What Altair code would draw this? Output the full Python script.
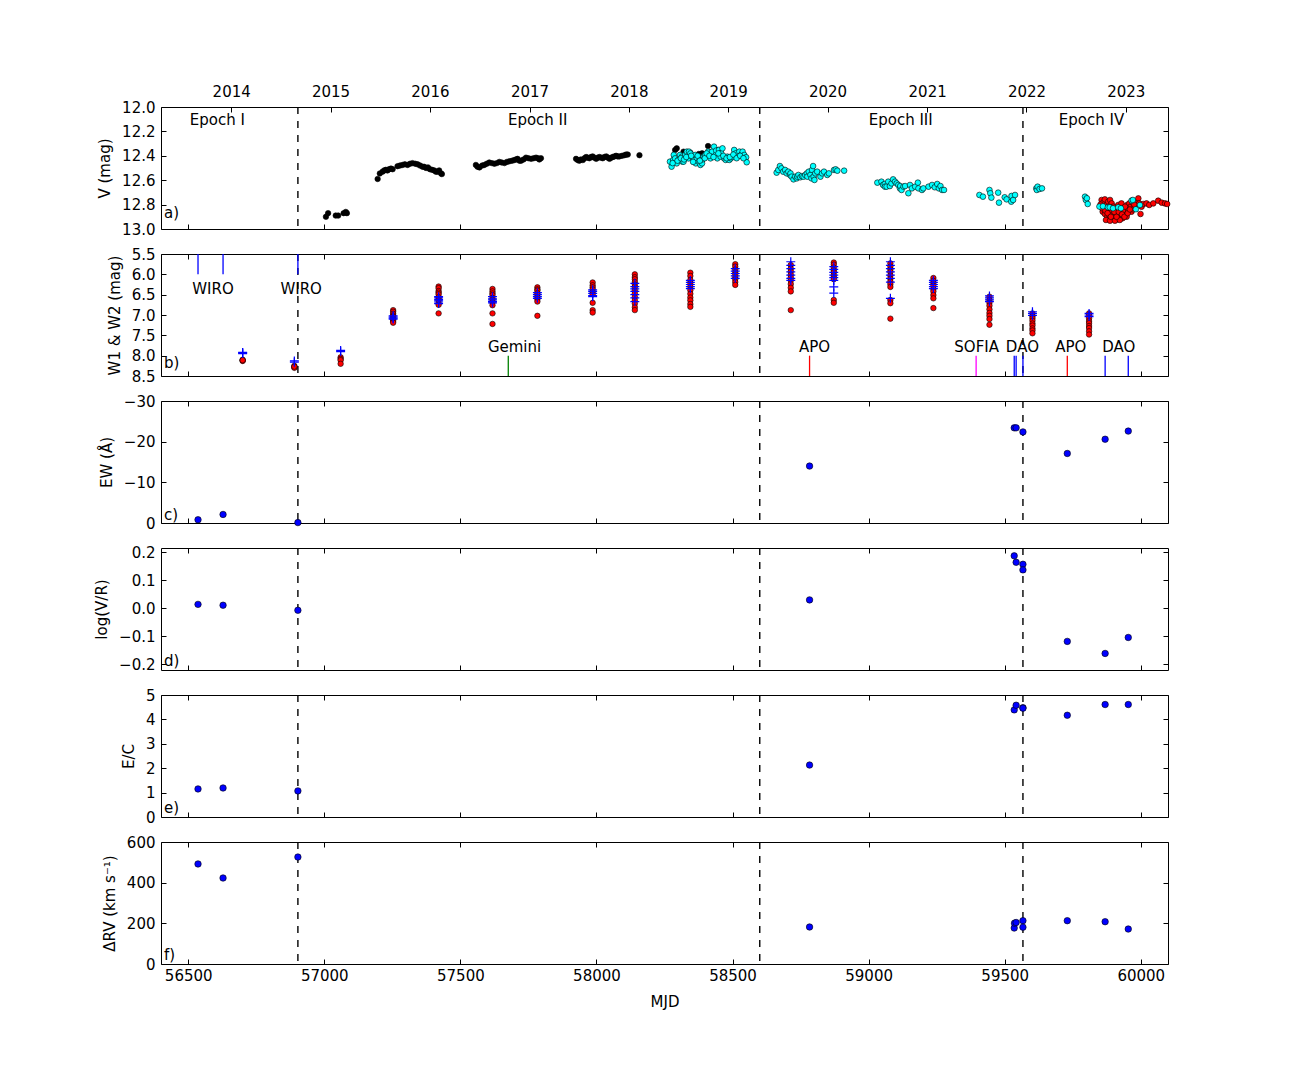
import altair as alt
import pandas as pd

FONT = "DejaVu Sans"
FS = 15
W = 1007
H = 122
TICK = 5

# ---------------- shared x data ----------------
x_domain = [56400, 60100]
mjd_ticks = [56500, 57000, 57500, 58000, 58500, 59000, 59500, 60000]
year_labels = ["2014", "2015", "2016", "2017", "2018", "2019", "2020", "2021", "2022", "2023"]
year_mjd = [56658, 57023, 57388, 57754, 58119, 58484, 58849, 59215, 59580, 59945]
epoch_bounds = [56903, 58600, 59567]
epoch_names = ["Epoch I", "Epoch II", "Epoch III", "Epoch IV"]
epoch_name_mjd = [56607, 57784, 59118, 59819]
epoch_name_v = 12.107

# ---------------- panel a: V (mag) ----------------
v_black = [
    (57006, 12.90), (57014, 12.87), (57042, 12.89), (57051, 12.89), (57071, 12.87), (57079, 12.86), (57083, 12.87),
    (57196, 12.59), (57204, 12.545), (57214, 12.53), (57220, 12.52), (57226, 12.515), (57232, 12.52), (57238, 12.51),
    (57245, 12.505), (57251, 12.51), (57269, 12.485), (57278, 12.48), (57287, 12.475), (57296, 12.47), (57306, 12.475),
    (57315, 12.465), (57324, 12.46), (57334, 12.465), (57343, 12.47), (57352, 12.48), (57361, 12.49), (57367, 12.49),
    (57374, 12.50), (57381, 12.495), (57388, 12.51), (57396, 12.515), (57404, 12.52), (57410, 12.53), (57416, 12.53),
    (57422, 12.52), (57429, 12.545), (57432, 12.55),
    (57557, 12.475), (57563, 12.49), (57570, 12.495), (57580, 12.48), (57588, 12.475), (57597, 12.465), (57606, 12.455),
    (57616, 12.46), (57625, 12.465), (57634, 12.46), (57643, 12.45), (57652, 12.455), (57662, 12.46), (57671, 12.45),
    (57680, 12.445), (57690, 12.44), (57698, 12.435), (57705, 12.43), (57710, 12.425), (57717, 12.44), (57723, 12.44),
    (57732, 12.43), (57741, 12.415), (57750, 12.42), (57760, 12.425), (57769, 12.42), (57778, 12.415), (57785, 12.42),
    (57790, 12.43), (57796, 12.42),
    (57925, 12.425), (57931, 12.435), (57937, 12.44), (57943, 12.43), (57950, 12.435), (57956, 12.42), (57962, 12.41),
    (57968, 12.415), (57974, 12.42), (57980, 12.41), (57986, 12.405), (57992, 12.415), (57999, 12.425), (58005, 12.415),
    (58011, 12.41), (58017, 12.415), (58023, 12.42), (58029, 12.41), (58036, 12.405), (58042, 12.415), (58048, 12.425),
    (58054, 12.415), (58060, 12.41), (58066, 12.405), (58072, 12.40), (58078, 12.405), (58084, 12.405), (58094, 12.40),
    (58103, 12.395), (58109, 12.39), (58115, 12.39), (58158, 12.395),
    (58289, 12.352), (58295, 12.339), (58320, 12.366), (58345, 12.375), (58376, 12.385), (58388, 12.38),
    (58410, 12.32), (58425, 12.366), (58444, 12.36), (58450, 12.352),
]
v_cyan = [
    (58270, 12.448), (58276, 12.489), (58282, 12.434), (58284, 12.393), (58289, 12.421), (58295, 12.462), (58301, 12.434),
    (58307, 12.393), (58314, 12.407), (58316, 12.448), (58320, 12.448), (58326, 12.393), (58332, 12.366), (58338, 12.421),
    (58340, 12.366), (58345, 12.380), (58351, 12.407), (58357, 12.434), (58363, 12.393), (58365, 12.462), (58369, 12.421),
    (58376, 12.448), (58382, 12.475), (58386, 12.434), (58388, 12.462), (58390, 12.429), (58394, 12.407), (58400, 12.393),
    (58410, 12.366), (58419, 12.421), (58425, 12.366), (58432, 12.325), (58438, 12.393), (58440, 12.357), (58444, 12.421),
    (58450, 12.352), (58456, 12.407), (58458, 12.375), (58463, 12.339), (58469, 12.421), (58475, 12.434), (58481, 12.407),
    (58488, 12.434), (58494, 12.421), (58500, 12.407), (58506, 12.352), (58512, 12.380), (58519, 12.407), (58525, 12.366),
    (58531, 12.393), (58537, 12.366), (58543, 12.393), (58550, 12.412), (58552, 12.453),
    (58280, 12.46), (58298, 12.44), (58310, 12.42), (58322, 12.43), (58330, 12.41), (58348, 12.40), (58355, 12.45),
    (58372, 12.40), (58380, 12.44), (58398, 12.42), (58405, 12.38), (58415, 12.40), (58430, 12.41), (58448, 12.38),
    (58466, 12.40), (58478, 12.42), (58490, 12.41), (58503, 12.39), (58515, 12.42), (58528, 12.40), (58540, 12.42),
    (58662, 12.538), (58668, 12.516), (58674, 12.484), (58680, 12.503), (58686, 12.530), (58693, 12.516), (58699, 12.544),
    (58705, 12.530), (58711, 12.557), (58713, 12.544), (58717, 12.571), (58724, 12.593), (58730, 12.571), (58736, 12.585),
    (58738, 12.571), (58742, 12.557), (58749, 12.576), (58755, 12.566), (58761, 12.571), (58767, 12.557), (58773, 12.544),
    (58775, 12.571), (58780, 12.530), (58786, 12.557), (58790, 12.585), (58792, 12.516), (58796, 12.484), (58798, 12.571),
    (58801, 12.598), (58804, 12.544), (58811, 12.530), (58823, 12.571), (58829, 12.544), (58836, 12.530), (58848, 12.557),
    (58854, 12.544), (58873, 12.516), (58879, 12.511), (58885, 12.522), (58910, 12.522),
    (59032, 12.620), (59047, 12.612), (59053, 12.639), (59059, 12.631), (59060, 12.653), (59066, 12.653), (59072, 12.612),
    (59078, 12.648), (59084, 12.626), (59090, 12.593), (59097, 12.612), (59103, 12.626), (59109, 12.639), (59115, 12.667),
    (59116, 12.648), (59121, 12.680), (59128, 12.653), (59134, 12.648), (59146, 12.707), (59152, 12.639), (59159, 12.667),
    (59171, 12.653), (59181, 12.620), (59183, 12.667), (59196, 12.680), (59201, 12.667), (59220, 12.653), (59233, 12.639),
    (59243, 12.658), (59252, 12.631), (59258, 12.667), (59264, 12.648), (59270, 12.680), (59277, 12.680),
    (59407, 12.721), (59420, 12.735), (59444, 12.680), (59447, 12.707), (59451, 12.743), (59476, 12.702), (59479, 12.784),
    (59500, 12.740), (59507, 12.757), (59524, 12.776), (59525, 12.729), (59531, 12.762), (59538, 12.721),
    (59616, 12.667), (59618, 12.680), (59621, 12.653), (59628, 12.672), (59637, 12.667),
    (59795, 12.735), (59798, 12.762), (59802, 12.748), (59805, 12.795),
    (59848, 12.816), (59861, 12.814), (59879, 12.822), (59886, 12.822), (59898, 12.830), (59917, 12.822), (59927, 12.830),
    (59966, 12.767), (59971, 12.762), (59982, 12.838), (59997, 12.803),
]
v_red = [
    (59856, 12.762), (59862, 12.784), (59868, 12.757), (59874, 12.803), (59880, 12.776), (59887, 12.762), (59893, 12.790),
    (59860, 12.858), (59868, 12.877), (59877, 12.899), (59884, 12.885), (59889, 12.866), (59896, 12.912), (59901, 12.893),
    (59909, 12.877), (59914, 12.921), (59921, 12.899), (59926, 12.872), (59933, 12.912), (59938, 12.885), (59945, 12.858),
    (59950, 12.803), (59958, 12.790), (59963, 12.817), (59970, 12.784), (59979, 12.811), (59985, 12.776), (59991, 12.749),
    (59994, 12.790), (59999, 12.877), (60003, 12.817), (59864, 12.831), (59872, 12.926), (59887, 12.932), (59905, 12.932),
    (59923, 12.926), (59936, 12.844), (59948, 12.899), (59954, 12.844), (59966, 12.858), (59972, 12.839), (59917, 12.803),
    (59929, 12.790), (59899, 12.817), (59893, 12.844), (59882, 12.817), (59942, 12.817), (59852, 12.80), (59858, 12.83),
    (59870, 12.85), (59878, 12.87), (59890, 12.90), (59903, 12.86), (59911, 12.90), (59919, 12.86), (59931, 12.88),
    (59940, 12.90), (59952, 12.87), (59960, 12.84), (59976, 12.80),
    (60009, 12.795), (60021, 12.790), (60031, 12.803), (60046, 12.790), (60064, 12.768), (60077, 12.784), (60089, 12.790),
    (60097, 12.795),
]

# ---------------- panel b: W1 & W2 (mag) ----------------
wise_mjd = [56700, 56890, 57060, 57253, 57420, 57618, 57783, 57986, 58141, 58345,
            58510, 58714, 58872, 59080, 59238, 59444, 59602, 59810]
wise_red = [
    [8.10, 8.12, 8.13, 8.11],
    [8.25, 8.28, 8.30, 8.27],
    [8.04, 8.08, 8.11, 8.20],
    [6.88, 6.92, 6.97, 7.01, 7.04, 7.09, 7.12, 7.15, 7.19],
    [6.30, 6.34, 6.41, 6.45, 6.49, 6.56, 6.60, 6.64, 6.71, 6.75, 6.96],
    [6.36, 6.42, 6.47, 6.51, 6.58, 6.63, 6.69, 6.76, 6.96, 7.22],
    [6.32, 6.37, 6.40, 6.46, 6.50, 6.56, 6.61, 6.67, 7.02],
    [6.20, 6.27, 6.32, 6.37, 6.44, 6.49, 6.70, 6.88, 6.94],
    [6.00, 6.07, 6.12, 6.19, 6.25, 6.31, 6.40, 6.47, 6.56, 6.64, 6.72, 6.81, 6.88],
    [5.96, 6.04, 6.14, 6.21, 6.30, 6.39, 6.48, 6.57, 6.64, 6.73, 6.80],
    [5.75, 5.81, 5.88, 5.95, 6.00, 6.07, 6.12, 6.19, 6.26],
    [5.77, 5.86, 5.93, 6.01, 6.08, 6.15, 6.24, 6.33, 6.42, 6.88],
    [5.71, 5.76, 5.83, 5.90, 5.95, 6.02, 6.07, 6.12, 6.63, 6.70],
    [5.73, 5.81, 5.88, 5.94, 6.03, 6.11, 6.18, 6.24, 6.31, 6.63, 6.71, 7.09],
    [6.09, 6.16, 6.22, 6.28, 6.36, 6.42, 6.51, 6.59, 6.83],
    [6.55, 6.63, 6.70, 6.77, 6.86, 6.95, 7.02, 7.10, 7.24],
    [6.96, 7.03, 7.08, 7.14, 7.21, 7.26, 7.33, 7.38, 7.45],
    [6.96, 7.01, 7.08, 7.15, 7.20, 7.27, 7.32, 7.40, 7.48],
]
wise_blue = [
    [7.92, 7.95, 7.93],
    [8.13, 8.16],
    [7.87, 7.90],
    [7.02, 7.05, 7.08, 7.10],
    [6.55, 6.58, 6.62, 6.65, 6.68, 6.72],
    [6.55, 6.60, 6.63, 6.67, 6.70],
    [6.45, 6.50, 6.55, 6.59],
    [6.38, 6.42, 6.47, 6.52, 6.55],
    [6.22, 6.30, 6.36, 6.42, 6.50, 6.58, 6.67],
    [6.15, 6.20, 6.25, 6.30, 6.35],
    [5.86, 5.92, 5.98, 6.04, 6.10],
    [5.69, 5.78, 5.86, 5.94, 6.02, 6.10, 6.15],
    [5.81, 5.88, 5.95, 6.02, 6.08, 6.15, 6.31, 6.46],
    [5.69, 5.78, 5.86, 5.94, 6.02, 6.10, 6.19, 6.59],
    [6.15, 6.20, 6.25, 6.30, 6.35],
    [6.53, 6.58, 6.63, 6.67],
    [6.92, 6.96, 7.01],
    [6.96, 7.00, 7.04],
]
# observation markers (top / bottom ticks in panel b)
obs_top_mjd = [56536, 56628, 56903]
obs_top_color = ["#0000ff", "#0000ff", "#0000ff"]
obs_bot_mjd = [57676, 58783, 59395, 59535, 59542, 59567, 59730, 59869, 59954]
obs_bot_color = ["#008000", "#ff0000", "#ff00ff", "#0000ff", "#0000ff", "#0000ff", "#ff0000", "#0000ff", "#0000ff"]
obs_names = ["WIRO", "WIRO", "Gemini", "APO", "SOFIA", "DAO", "APO", "DAO"]
obs_name_mjd = [56591, 56915, 57699, 58801, 59397, 59565, 59743, 59919]
obs_name_w = [6.37, 6.37, 7.78, 7.78, 7.78, 7.78, 7.78, 7.78]

# ---------------- panels c-f: spectroscopic quantities ----------------
ew_mjd = [56536, 56628, 56903, 58783, 59535, 59542, 59567, 59730, 59869, 59954]
ew_val = [-0.8, -2.1, -0.1, -14.0, -23.4, -23.4, -22.4, -17.1, -20.6, -22.6]
vr_mjd = [56536, 56628, 56903, 58783, 59535, 59542, 59567, 59567, 59730, 59869, 59954]
vr_val = [0.014, 0.011, -0.007, 0.030, 0.187, 0.164, 0.157, 0.137, -0.118, -0.161, -0.104]
ec_mjd = [56536, 56628, 56903, 58783, 59535, 59542, 59567, 59567, 59730, 59869, 59954]
ec_val = [1.15, 1.19, 1.07, 2.13, 4.39, 4.58, 4.48, 4.46, 4.17, 4.61, 4.61]
rv_mjd = [56536, 56628, 56903, 58783, 59535, 59536, 59542, 59567, 59567, 59730, 59869, 59954]
rv_val = [492, 423, 526, 182, 177, 201, 204, 213, 181, 213, 208, 172]

panel_letters = ["a)", "b)", "c)", "d)", "e)", "f)"]
letter_mjd = 56411
letter_y = [12.869, 8.18, -2.0, -0.1875, 0.37, 44.5]

# ---------------- helpers ----------------
XS = alt.Scale(domain=x_domain, nice=False, zero=False)


def yscale(dom, rev):
    return alt.Scale(domain=dom, nice=False, zero=False, reverse=rev)


year_expr = "''"
for m, y in zip(reversed(year_mjd), reversed(year_labels)):
    year_expr = f"datum.value == {m} ? '{y}' : {year_expr}"


def axes_layers(ys, ydom, yticks, yfmt, ytitle, bottom_labels, top_years):
    df = pd.DataFrame({"ax": x_domain, "ay": ydom})
    bk = dict(orient="bottom", values=mjd_ticks, format="d", offset=-TICK, tickSize=TICK, domain=False,
              grid=False, labelPadding=4, labelFlush=False)
    if bottom_labels:
        bk.update(title="MJD", titlePadding=11)
    else:
        bk.update(labels=False, title=None)
    left = alt.Axis(orient="left", values=yticks, format=yfmt, offset=-TICK, tickSize=TICK, domain=False,
                    grid=False, labelPadding=6, title=ytitle, titlePadding=9)
    if top_years:
        top = alt.Axis(orient="top", values=year_mjd, labelExpr=year_expr, offset=-TICK, tickSize=TICK,
                       domain=False, grid=False, labelPadding=8, title=None, labelFlush=False)
    else:
        top = alt.Axis(orient="top", values=mjd_ticks, labels=False, offset=-TICK, tickSize=TICK,
                       domain=False, grid=False, title=None)
    right = alt.Axis(orient="right", values=yticks, labels=False, offset=-TICK, tickSize=TICK,
                     domain=False, grid=False, title=None)
    l1 = alt.Chart(df).mark_point(opacity=0).encode(
        x=alt.X("ax:Q", scale=XS, axis=alt.Axis(**bk)),
        y=alt.Y("ay:Q", scale=ys, axis=left))
    l2 = alt.Chart(df).mark_point(opacity=0).encode(
        x=alt.X("ax:Q", scale=XS, axis=top),
        y=alt.Y("ay:Q", scale=ys, axis=right))
    return [l1, l2]


def dashed():
    df = pd.DataFrame({"mjd": epoch_bounds})
    return alt.Chart(df).mark_rule(color="black", strokeWidth=1.4, strokeDash=[7, 7]).encode(
        x=alt.X("mjd:Q", scale=XS, axis=None))


def points(df, ys, fill, size, stroke="black", sw=0.6):
    return alt.Chart(df).mark_circle(fill=fill, stroke=stroke, strokeWidth=sw, size=size, opacity=1).encode(
        x=alt.X("mjd:Q", scale=XS, axis=None),
        y=alt.Y("val:Q", scale=ys, axis=None))


def texts(df, ys, align="center"):
    return alt.Chart(df).mark_text(font=FONT, fontSize=FS, color="black", align=align, baseline="middle").encode(
        x=alt.X("mjd:Q", scale=XS, axis=None),
        y=alt.Y("val:Q", scale=ys, axis=None),
        text="label:N")


def letter(i, ys):
    df = pd.DataFrame({"mjd": [letter_mjd], "val": [letter_y[i]], "label": [panel_letters[i]]})
    return texts(df, ys, align="left")


def pairs_df(pairs):
    return pd.DataFrame({"mjd": [p[0] for p in pairs], "val": [p[1] for p in pairs]})


def make_panel(layers, ys, ydom, yticks, yfmt, ytitle, bottom_labels=False, top_years=False):
    all_layers = [dashed()] + layers + axes_layers(ys, ydom, yticks, yfmt, ytitle, bottom_labels, top_years)
    return alt.layer(*all_layers).resolve_axis(x="independent", y="independent").properties(width=W, height=H)


# ---------------- panel a ----------------
ya_dom = [12.0, 13.0]
ysa = yscale(ya_dom, True)
epoch_df = pd.DataFrame({"mjd": epoch_name_mjd, "val": [epoch_name_v] * 4, "label": epoch_names})
pa = make_panel(
    [points(pairs_df(v_black), ysa, "black", 30),
     points(pairs_df(v_red), ysa, "#ff0000", 32),
     points(pairs_df(v_cyan), ysa, "#00ffff", 32),
     texts(epoch_df, ysa), letter(0, ysa)],
    ysa, ya_dom, [12.0, 12.2, 12.4, 12.6, 12.8, 13.0], ".1f", "V (mag)", top_years=True)

# ---------------- panel b ----------------
yb_dom = [5.5, 8.5]
ysb = yscale(yb_dom, True)
red_rows, blue_rows = [], []
for m, vals in zip(wise_mjd, wise_red):
    red_rows += [(m, v) for v in vals]
for m, vals in zip(wise_mjd, wise_blue):
    blue_rows += [(m, v) for v in vals]
obs_df = pd.DataFrame({
    "mjd": obs_top_mjd + obs_bot_mjd,
    "y0": [5.5] * len(obs_top_mjd) + [8.0] * len(obs_bot_mjd),
    "y1": [6.0] * len(obs_top_mjd) + [8.5] * len(obs_bot_mjd),
    "color": obs_top_color + obs_bot_color,
})
obs_rules = alt.Chart(obs_df).mark_rule(strokeWidth=1.3).encode(
    x=alt.X("mjd:Q", scale=XS, axis=None),
    y=alt.Y("y0:Q", scale=ysb, axis=None),
    y2="y1:Q",
    color=alt.Color("color:N", scale=None))
names_df = pd.DataFrame({"mjd": obs_name_mjd, "val": obs_name_w, "label": obs_names})
plus = alt.Chart(pairs_df(blue_rows)).mark_point(
    shape="M-1,0L1,0M0,-1L0,1", filled=False, stroke="#0000ff", strokeWidth=1.2, size=80, opacity=1).encode(
    x=alt.X("mjd:Q", scale=XS, axis=None),
    y=alt.Y("val:Q", scale=ysb, axis=None))
pb = make_panel(
    [obs_rules, points(pairs_df(red_rows), ysb, "#ff0000", 30), plus, texts(names_df, ysb), letter(1, ysb)],
    ysb, yb_dom, [5.5, 6.0, 6.5, 7.0, 7.5, 8.0, 8.5], ".1f", "W1 & W2 (mag)")

# ---------------- panel c ----------------
yc_dom = [-30, 0]
ysc = yscale(yc_dom, True)
pc = make_panel(
    [points(pd.DataFrame({"mjd": ew_mjd, "val": ew_val}), ysc, "#0000ff", 42), letter(2, ysc)],
    ysc, yc_dom, [-30, -20, -10, 0], "d", "EW (Å)")

# ---------------- panel d ----------------
yd_dom = [-0.22, 0.215]
ysd = yscale(yd_dom, False)
pdn = make_panel(
    [points(pd.DataFrame({"mjd": vr_mjd, "val": vr_val}), ysd, "#0000ff", 42), letter(3, ysd)],
    ysd, yd_dom, [-0.2, -0.1, 0.0, 0.1, 0.2], ".1f", "log(V/R)")

# ---------------- panel e ----------------
ye_dom = [0, 5]
yse = yscale(ye_dom, False)
pe = make_panel(
    [points(pd.DataFrame({"mjd": ec_mjd, "val": ec_val}), yse, "#0000ff", 42), letter(4, yse)],
    yse, ye_dom, [0, 1, 2, 3, 4, 5], "d", "E/C")

# ---------------- panel f ----------------
yf_dom = [0, 600]
ysf = yscale(yf_dom, False)
pf = make_panel(
    [points(pd.DataFrame({"mjd": rv_mjd, "val": rv_val}), ysf, "#0000ff", 42), letter(5, ysf)],
    ysf, yf_dom, [0, 200, 400, 600], "d", "ΔRV (km s⁻¹)", bottom_labels=True)

chart = alt.vconcat(pa, pb, pc, pdn, pe, pf, spacing=25, bounds="flush").properties(
    padding={"left": 86, "top": 75, "right": 20, "bottom": 10}
).configure_view(
    stroke="black", strokeWidth=1
).configure_axis(
    labelFont=FONT, titleFont=FONT, labelFontSize=FS, titleFontSize=FS,
    titleFontWeight="normal", labelColor="black", titleColor="black", tickColor="black", tickWidth=1
)

chart.save("out.html", embed_options={"renderer": "svg", "actions": False})
